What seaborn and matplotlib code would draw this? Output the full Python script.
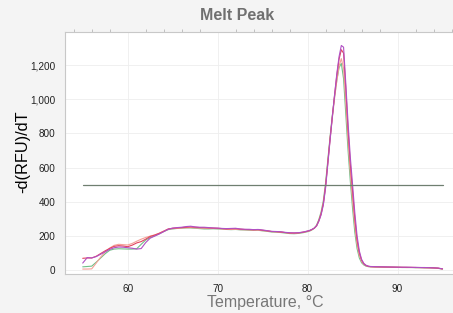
import numpy as np
import pandas as pd
import matplotlib.pyplot as plt
import seaborn as sns
from matplotlib.ticker import MultipleLocator, FuncFormatter

# temperature grid (finer around the melt peak)
temp = list(np.arange(55.0, 80.01, 0.5)) + list(np.arange(80.25, 87.01, 0.25)) + list(np.arange(87.5, 95.01, 0.5))

purple = [40, 72, 70, 78, 92, 106, 120, 130, 134, 133,
          130, 127, 122, 125, 160, 186, 198, 210, 224, 238,
          245, 248, 250, 254, 256, 252, 250, 250, 248, 246,
          245, 243, 242, 243, 244, 240, 238, 238, 236, 237,
          234, 230, 226, 225, 224, 220, 218, 217, 218, 222,
          228,
          232, 238, 245, 258, 285, 322, 380, 480, 620, 760,
          895, 1025, 1150, 1250, 1315, 1305, 1090, 860, 660, 500,
          335, 200, 112, 62, 38, 27, 22, 20,
          19, 18, 18, 17, 17, 16, 16, 16, 15, 15, 14, 14, 13, 12, 11, 6]

red = [68, 70, 70, 80, 96, 112, 126, 138, 142, 140,
       136, 145, 158, 166, 180, 196, 204, 214, 226, 240,
       244, 246, 248, 250, 252, 250, 248, 247, 246, 245,
       244, 242, 240, 241, 242, 239, 237, 236, 235, 236,
       232, 229, 225, 224, 222, 219, 216, 216, 217, 221,
       227,
       231, 237, 245, 259, 288, 328, 388, 490, 630, 770,
       900, 1025, 1140, 1235, 1290, 1270, 1060, 820, 620, 460,
       300, 175, 100, 58, 36, 26, 21, 19,
       18, 18, 17, 17, 16, 16, 15, 15, 15, 14, 14, 13, 13, 12, 10, 6]

salmon = [5, 5, 6, 40, 75, 105, 128, 144, 150, 148,
          146, 155, 168, 180, 190, 198, 205, 215, 228, 238,
          242, 244, 245, 247, 248, 246, 245, 245, 244, 243,
          242, 240, 238, 237, 238, 236, 235, 235, 233, 233,
          230, 228, 224, 223, 221, 218, 215, 214, 216, 220,
          226,
          230, 236, 244, 258, 288, 330, 392, 495, 630, 765,
          890, 1005, 1110, 1195, 1238, 1180, 980, 760, 570, 410,
          260, 150, 85, 50, 33, 24, 20, 18,
          17, 17, 16, 16, 16, 15, 15, 14, 14, 14, 13, 13, 12, 11, 10, 5]

green = [18, 20, 22, 45, 70, 95, 115, 122, 124, 123,
         122, 122, 124, 150, 175, 190, 200, 212, 225, 236,
         240, 243, 244, 246, 246, 244, 242, 240, 240, 241,
         240, 239, 237, 236, 237, 235, 234, 233, 232, 232,
         229, 226, 222, 221, 219, 216, 213, 212, 214, 218,
         224,
         228, 235, 245, 262, 295, 340, 405, 510, 645, 780,
         905, 1015, 1110, 1185, 1210, 1120, 910, 700, 520, 360,
         220, 125, 70, 42, 29, 22, 19, 18,
         17, 16, 16, 15, 15, 15, 14, 14, 14, 13, 13, 12, 12, 11, 9, 5]

threshold = 500
threshold_range = [55.0, 95.0]

series = {"green": green, "salmon": salmon, "red": red, "purple": purple}
colors = {"green": "#70c088", "salmon": "#f5a098", "red": "#e2445e", "purple": "#b050c4"}

rows = []
for name, vals in series.items():
    for t, v in zip(temp, vals):
        rows.append({"Temperature": t, "value": v, "well": name})
df = pd.DataFrame(rows)

sns.set_style("white")
plt.rcParams['font.family'] = ['Liberation Sans', 'DejaVu Sans']

fig = plt.figure(figsize=(4.53, 3.13), dpi=100, facecolor="#f4f4f4")
ax = fig.add_axes([65 / 453, 39 / 313, 400 / 453, 242 / 313])
ax.set_facecolor("white")

sns.lineplot(data=df, x="Temperature", y="value", hue="well", palette=colors,
             linewidth=0.8, legend=False, ax=ax, sort=False, estimator=None)
ax.plot(threshold_range, [threshold, threshold], color="#6f7f70", linewidth=0.9)

ax.set_xlim(53.03, 97.5)
ax.set_ylim(-24, 1394)
ax.xaxis.set_major_locator(MultipleLocator(10))
ax.xaxis.set_minor_locator(MultipleLocator(2))
ax.yaxis.set_major_locator(MultipleLocator(200))
ax.yaxis.set_minor_locator(MultipleLocator(50))
ax.yaxis.set_major_formatter(FuncFormatter(lambda v, p: f"{int(v):,}"))

ax.grid(True, which="major", color="#eeeeee", linewidth=0.6)
for s in ["left", "bottom", "top"]:
    ax.spines[s].set_color("#c8c8c8")
    ax.spines[s].set_linewidth(0.8)
ax.spines["right"].set_visible(False)

ax.tick_params(axis="both", which="major", direction="out", length=4, width=0.7,
               color="#b0b0b0", labelsize=7.2, labelcolor="#222222", pad=3)
ax.tick_params(axis="both", which="minor", direction="out", length=2.5, width=0.6, color="#b8b8b8")
ax.tick_params(axis="x", which="minor", top=True)

ax.set_xlabel("Temperature, °C", fontsize=11.5, color="#777777", labelpad=1)
ax.set_ylabel("")
fig.text(23 / 453, 0.514, "-d(RFU)/dT", rotation=90, fontsize=11.8, color="#000000",
         ha="center", va="center")
fig.text(237.5 / 453, 1 - 16 / 313, "Melt Peak", fontsize=11.5, color="#707070",
         ha="center", va="center", fontweight="bold")

fig.savefig("out.png", dpi=100, facecolor=fig.get_facecolor())
